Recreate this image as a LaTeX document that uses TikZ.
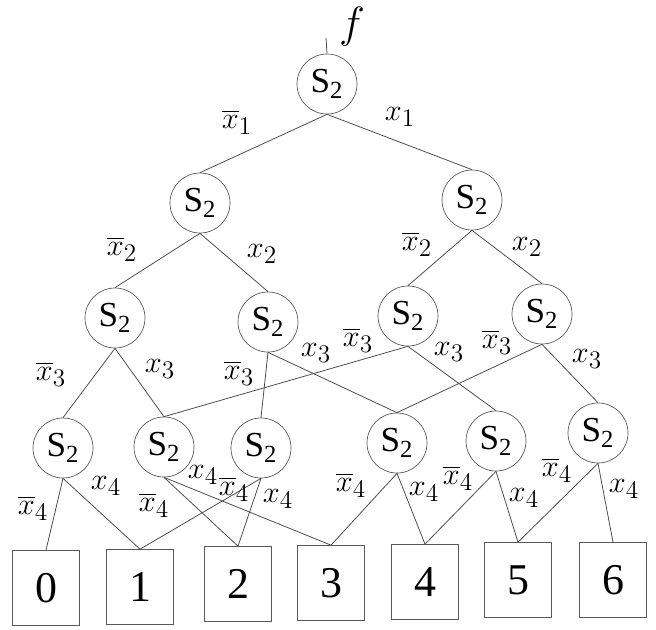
\documentclass[tikz,border=0pt]{standalone}
\usepackage{amsmath,amssymb}
\usepackage{fontspec}
\setmainfont{Liberation Serif}
\usepackage{tikz}
\usetikzlibrary{positioning}
\tikzset{
  vertice/.style={draw=black!65, circle, minimum size=1.2cm, inner sep=0pt, font=\fontsize{20}{20}\selectfont},
  folha/.style={draw=black!65, minimum width=1.34cm, minimum height=1.5cm, inner sep=0pt, font=\fontsize{25}{25}\selectfont},
  aresta/.style={draw=black!70, line width=0.45pt},
  rotulo/.style={inner sep=0pt, font=\fontsize{19}{19}\selectfont},
}
\begin{document}
\begin{tikzpicture}[x=0.02cm, y=-0.02cm]
  \useasboundingbox (0,0) rectangle (656,629);
  % vertices S2
  \node[vertice] (r) at (327,84) {S\textsubscript{2}};
  \node[vertice] (a) at (200,203) {S\textsubscript{2}};
  \node[vertice] (b) at (472,200) {S\textsubscript{2}};
  \node[vertice] (c) at (115,318) {S\textsubscript{2}};
  \node[vertice] (d) at (268,322) {S\textsubscript{2}};
  \node[vertice] (e) at (408,316) {S\textsubscript{2}};
  \node[vertice] (g) at (542,314) {S\textsubscript{2}};
  \node[vertice] (p1) at (63,448) {S\textsubscript{2}};
  \node[vertice] (p2) at (164,447) {S\textsubscript{2}};
  \node[vertice] (p3) at (261,448) {S\textsubscript{2}};
  \node[vertice] (p4) at (397,443) {S\textsubscript{2}};
  \node[vertice] (p5) at (496,441) {S\textsubscript{2}};
  \node[vertice] (p6) at (598,433) {S\textsubscript{2}};
  % folhas
  \node[folha] (t0) at (46,588) {0};
  \node[folha] (t1) at (140,587) {1};
  \node[folha] (t2) at (238,584) {2};
  \node[folha] (t3) at (331,583) {3};
  \node[folha] (t4) at (425,582) {4};
  \node[folha] (t5) at (518,580) {5};
  \node[folha] (t6) at (613,580) {6};
  % entrada f
  \coordinate (fin) at (326,38);
  \node[rotulo, font=\fontsize{26}{26}\selectfont] (fl) at (352,27) {$f$};
  \draw[aresta] (fin) -- (r.north);
  % arestas
  \draw[aresta] (r.south) -- (a.north);
  \draw[aresta] (r.south) -- (b.north);
  \draw[aresta] (a.south) -- (c.north);
  \draw[aresta] (a.south) -- (d.north);
  \draw[aresta] (b.south) -- (e.north);
  \draw[aresta] (b.south) -- (g.north);
  \draw[aresta] (c.south) -- (p1.north);
  \draw[aresta] (c.south) -- (p2.north);
  \draw[aresta] (d.south) -- (p3.north);
  \draw[aresta] (d.south) -- (p4.north);
  \draw[aresta] (e.south) -- (p2.north);
  \draw[aresta] (e.south) -- (p5.north);
  \draw[aresta] (g.south) -- (p4.north);
  \draw[aresta] (g.south) -- (p6.north);
  \draw[aresta] (p1.south) -- (t0.north);
  \draw[aresta] (p1.south) -- (t1.north);
  \draw[aresta] (p2.south) -- (t2.north);
  \draw[aresta] (p2.south) -- (t3.north);
  \draw[aresta] (p3.south) -- (t1.north);
  \draw[aresta] (p3.south) -- (t2.north);
  \draw[aresta] (p4.south) -- (t3.north);
  \draw[aresta] (p4.south) -- (t4.north);
  \draw[aresta] (p5.south) -- (t4.north);
  \draw[aresta] (p5.south) -- (t5.north);
  \draw[aresta] (p6.south) -- (t5.north);
  \draw[aresta] (p6.south) -- (t6.north);
  % rotulos das arestas
  \node[rotulo] (l1) at (237,122) {$\overline{x}_1$};
  \node[rotulo] (l2) at (400,117) {$x_1$};
  \node[rotulo] (l3) at (122,249) {$\overline{x}_2$};
  \node[rotulo] (l4) at (262,254) {$x_2$};
  \node[rotulo] (l5) at (417,244) {$\overline{x}_2$};
  \node[rotulo] (l6) at (527,247) {$x_2$};
  \node[rotulo] (l7) at (51,374) {$\overline{x}_3$};
  \node[rotulo] (l8) at (160,369) {$x_3$};
  \node[rotulo] (l9) at (239,373) {$\overline{x}_3$};
  \node[rotulo] (l10) at (316,353) {$x_3$};
  \node[rotulo] (l11) at (358,340) {$\overline{x}_3$};
  \node[rotulo] (l12) at (449,352) {$x_3$};
  \node[rotulo] (l13) at (497,342) {$\overline{x}_3$};
  \node[rotulo] (l14) at (587,359) {$x_3$};
  \node[rotulo] (l15) at (33,508) {$\overline{x}_4$};
  \node[rotulo] (l16) at (106,486) {$x_4$};
  \node[rotulo] (l17) at (154,505) {$\overline{x}_4$};
  \node[rotulo] (l18) at (203,475) {$x_4$};
  \node[rotulo] (l19) at (234,489) {$\overline{x}_4$};
  \node[rotulo] (l20) at (278,499) {$x_4$};
  \node[rotulo] (l21) at (351,485) {$\overline{x}_4$};
  \node[rotulo] (l22) at (424,492) {$x_4$};
  \node[rotulo] (l23) at (458,478) {$\overline{x}_4$};
  \node[rotulo] (l24) at (524,498) {$x_4$};
  \node[rotulo] (l25) at (557,470) {$\overline{x}_4$};
  \node[rotulo] (l26) at (624,489) {$x_4$};
\end{tikzpicture}
\end{document}
